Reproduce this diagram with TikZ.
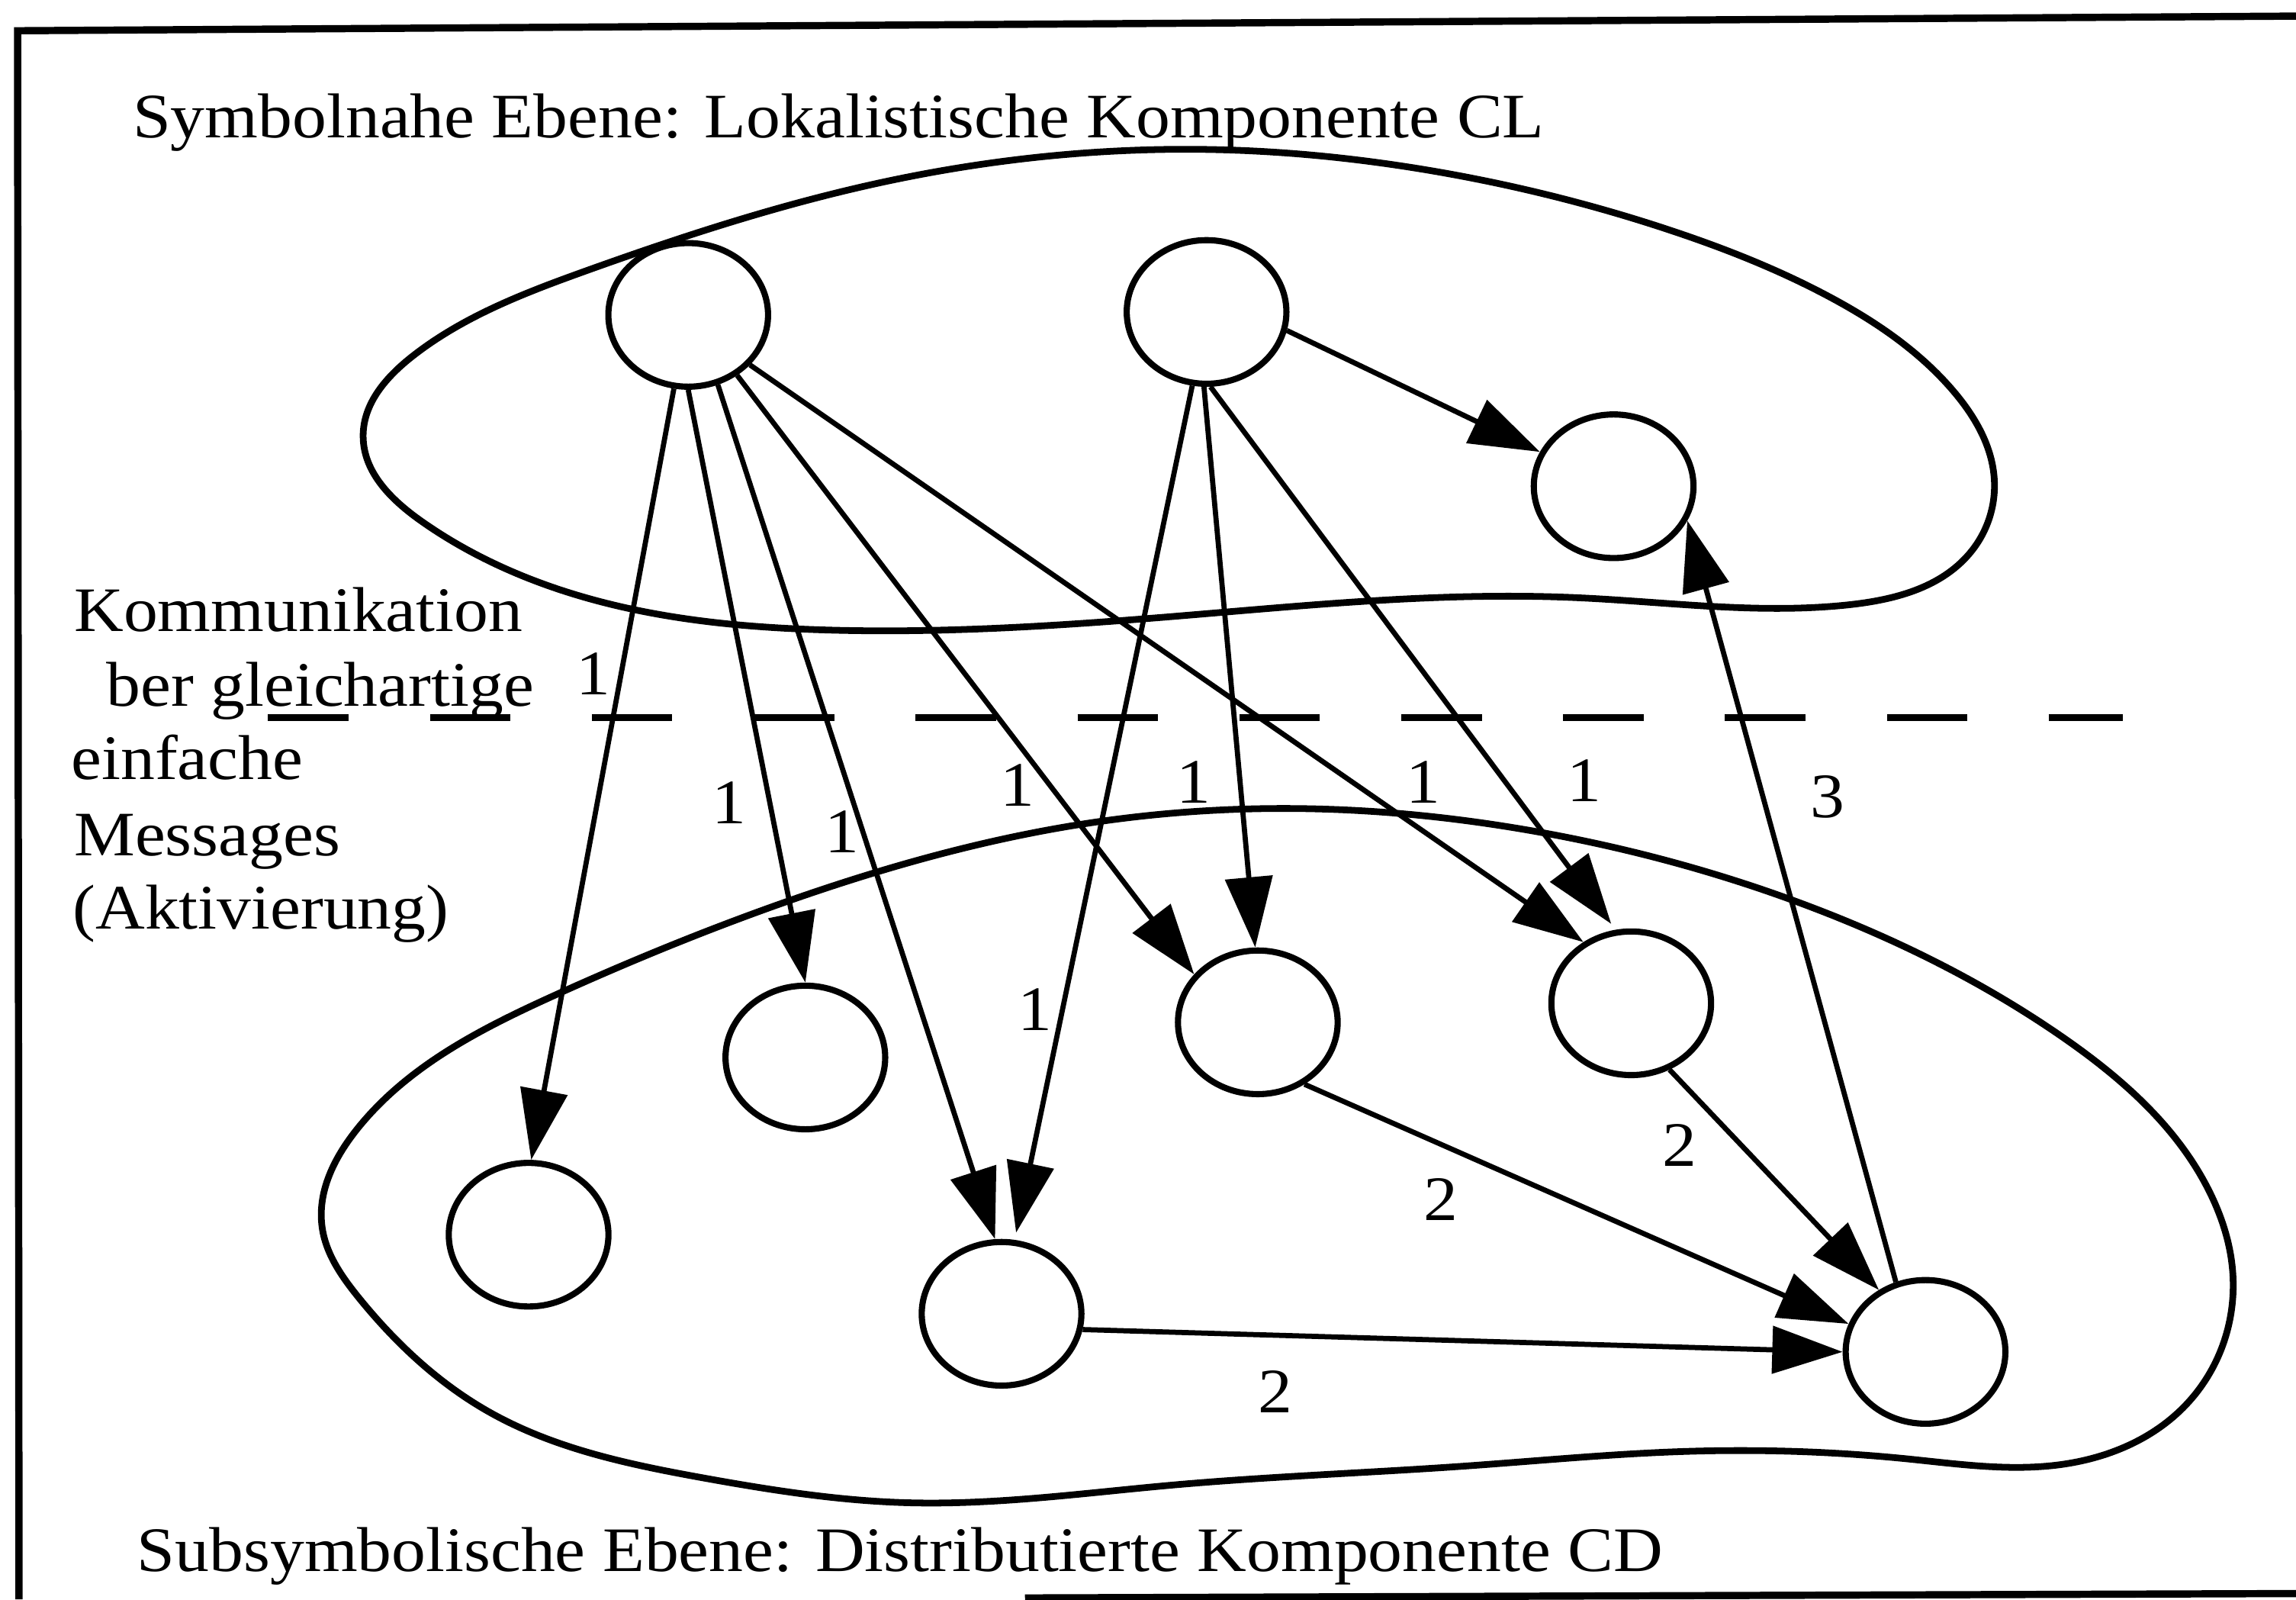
\documentclass[tikz,border=0pt]{standalone}
\usepackage{fontspec}
\setmainfont{Liberation Serif}[FakeStretch=1.08]
\usetikzlibrary{arrows.meta,shapes.geometric,calc,hobby}
\begin{document}
\begin{tikzpicture}[x=0.01cm,y=-0.01cm,
  unit/.style={ellipse,draw,line width=1.2pt,minimum width=1.09cm,minimum height=0.98cm,inner sep=0pt},
  blob/.style={line width=1.3pt,use Hobby shortcut,closed=true},
  msg/.style={line width=1pt,-{Triangle[length=0.48cm,width=0.32cm]}},
  lbl/.style={font=\fontsize{12.3}{14}\selectfont,inner sep=0pt},
  txt/.style={font=\fontsize{12.3}{14}\selectfont,inner sep=0pt,anchor=base west},
  frameline/.style={line width=1.4pt},
  sepline/.style={line width=1.4pt,dash pattern=on 5.5mm off 5.55mm}]
\useasboundingbox (0,0) rectangle (1568,1092);

% frame
\draw[frameline] (13,1092) -- (12,21) -- (1568,11);
\draw[frameline] (700,1091) -- (1568,1088);

% blobs
\draw[blob] (820,102) .. (600,125) .. (400,185) .. (282,243) .. (248,298)
 .. (288,356) .. (407,410) .. (560,430) .. (800,421) .. (1075,408)
 .. (1262,413) .. (1345,378) .. (1362,328) .. (1334,267) .. (1250,203)
 .. (1140,157) .. (980,117);
\draw[blob] (875,552) .. (1056,569) .. (1228,616) .. (1407,707) .. (1511,818)
 .. (1525,872) .. (1493,959) .. (1407,1000) .. (1302,996) .. (1150,991)
 .. (1000,1001) .. (800,1014) .. (620,1026) .. (480,1009) .. (334,964)
 .. (245,886) .. (220,838) .. (243,772) .. (380,679) .. (536,616) .. (737,563);

% dashed separator
\coordinate (s1) at (183,490);
\coordinate (s2) at (1450,490);
\draw[sepline] (s1) -- (s2);

% units
\node[unit] (A) at (470,215) {};
\node[unit] (B) at (824,213) {};
\node[unit] (C) at (1102,332) {};
\node[unit] (D) at (361,843) {};
\node[unit] (E) at (550,722) {};
\node[unit] (F) at (684,897) {};
\node[unit] (G) at (859,698) {};
\node[unit] (H) at (1114,685) {};
\node[unit] (I) at (1315,923) {};

% connectors
\draw[msg] (A.-101) -- (D.88);
\draw[msg] (A.-90) -- (E.90);
\draw[msg] (A.-67) -- (F.95);
\draw[msg] (A.-51) -- (G.143);
\draw[msg] (A.-39) -- (H.128);
\draw[msg,shorten >=0.05cm] (B.-101) -- (F.80);
\draw[msg] (B.-92) -- (G.92);
\draw[msg,shorten >=0.05cm] (B.-87) -- (H.102);
\draw[msg] (B.-13) -- (C.155);
\draw[msg] (F.-11) -- (I.west);
\draw[msg] (G.-53) -- (I.160);
\draw[msg] (H.-60) -- (I.127);
\draw[msg] (I.113) -- (C.-25);

% labels
\node[lbl] (l1) at (405,460) {1};
\node[lbl] (l2) at (498,548) {1};
\node[lbl] (l3) at (575,568) {1};
\node[lbl] (l4) at (695,536) {1};
\node[lbl] (l5) at (815,534) {1};
\node[lbl] (l6) at (972,534) {1};
\node[lbl] (l7) at (1082,533) {1};
\node[lbl] (l8) at (707,689) {1};
\node[lbl] (l9) at (871,950) {2};
\node[lbl] (l10) at (984,819) {2};
\node[lbl] (l11) at (1147,782) {2};
\node[lbl] (l12) at (1248,544) {3};

% texts
\node[txt] (tCL) at (90,94) {Symbolnahe Ebene: Lokalistische Komponente CL};
\node[txt] (tCD) at (93,1073) {Subsymbolische Ebene: Distributierte Komponente CD};
\node[txt] (k1) at (50,431) {Kommunikation};
\node[txt] (k2) at (72,482) {ber gleichartige};
\node[txt] (k3) at (48,532) {einfache};
\node[txt] (k4) at (50,584) {Messages};
\node[txt] (k5) at (49,634) {(Aktivierung)};
\end{tikzpicture}
\end{document}
